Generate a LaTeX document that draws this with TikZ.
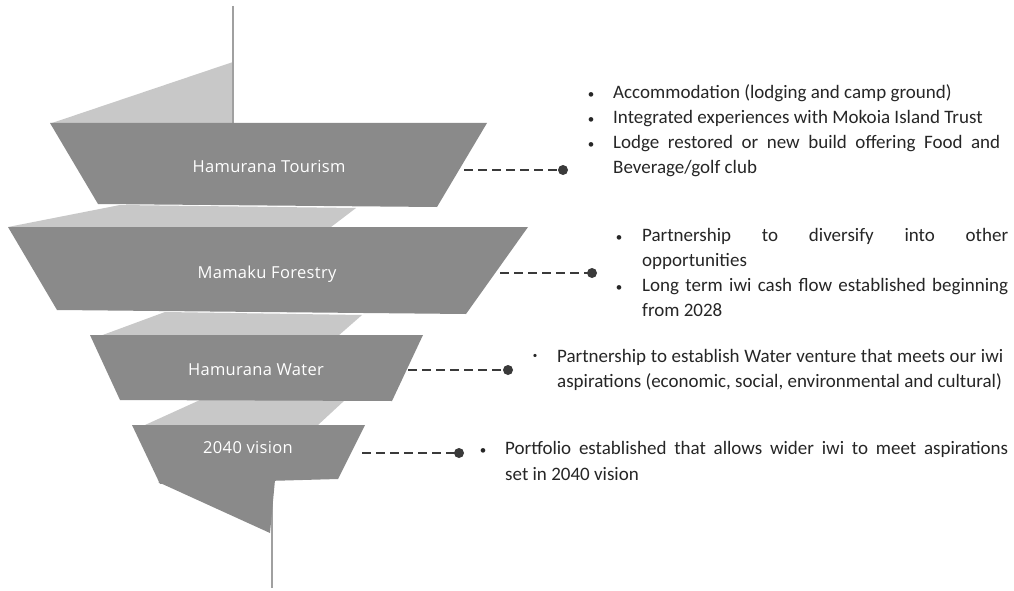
\documentclass[tikz,border=0pt]{standalone}
\usepackage{fontspec}
\setmainfont{Carlito}
\newfontfamily\labelfont[LetterSpace=2]{Open Sans}
\definecolor{band}{HTML}{8A8A8A}
\definecolor{ribbon}{HTML}{C8C8C8}
\definecolor{spike}{HTML}{A0A0A0}
\definecolor{ink}{HTML}{262626}
\definecolor{conn}{HTML}{3A3A3A}
\tikzset{
  bandlabel/.style={anchor=base, text=white, font=\labelfont\fontsize{16.5}{19}\selectfont, inner sep=0pt},
  txt/.style={anchor=base west, text=ink, font=\fontsize{19}{23}\selectfont, inner sep=0pt},
  bul/.style={anchor=base, text=ink, font=\fontsize{13}{16}\selectfont, inner sep=0pt},
  connline/.style={draw=conn, line width=2pt, dash pattern=on 9pt off 5pt},
  dotmark/.style={fill=conn}
}
\begin{document}
\begin{tikzpicture}[x=1pt,y=-1pt]
\useasboundingbox[fill=white] (0,0) rectangle (1014,591);
% upper spike
\fill[ribbon] (233,62) -- (52,123) -- (233,123) -- cycle;
\draw[spike, line width=2.2pt] (233,6) -- (233,123);
% ribbons between bands
\fill[ribbon] (8,227) -- (120,205) -- (356,208) -- (331,227) -- cycle;
\fill[ribbon] (100,336) -- (165,312) -- (362,315) -- (338,336) -- cycle;
\fill[ribbon] (145,425) -- (200,400) -- (345,400) -- (318,425) -- cycle;
% lower spike
\draw[spike, line width=2.2pt] (272,484) -- (272,588);
\fill[band] (158,482) -- (270,533) -- (275,480) -- cycle;
% bands
\fill[band] (50,123) -- (487,123) -- (437,207) -- (98,204) -- cycle;
\fill[band] (8,227) -- (528,227) -- (466,314) -- (57,310) -- cycle;
\fill[band] (90,335) -- (423,335) -- (392,401) -- (120,400) -- cycle;
\fill[band] (132,425) -- (365,425) -- (338,479) -- (160,484) -- cycle;
% band labels
\node[bandlabel] (l1) at (269,172) {Hamurana Tourism};
\node[bandlabel] (l2) at (267,278) {Mamaku Forestry};
\node[bandlabel] (l3) at (256,375) {Hamurana Water};
\node[bandlabel] (l4) at (248,453) {2040 vision};
% connectors
\coordinate (c1) at (464,170); \coordinate (d1) at (563,170);
\coordinate (c2) at (500,273); \coordinate (d2) at (592,273);
\coordinate (c3) at (408,370); \coordinate (d3) at (508,370);
\coordinate (c4) at (362,453); \coordinate (d4) at (459,453);
\foreach \i in {1,2,3,4}{
  \draw[connline] (c\i) -- (d\i);
  \fill[dotmark] (d\i) circle (5pt);
}
% block 1
\node[bul] (b1a) at (591,99) {\textbullet};
\node[txt] (t1a) at (613,99) {Accommodation (lodging and camp ground)};
\node[bul] (b1b) at (591,124) {\textbullet};
\node[txt] (t1b) at (613,124) {Integrated experiences with Mokoia Island Trust};
\node[bul] (b1c) at (591,148) {\textbullet};
\node[txt] (t1c) at (613,148) {\makebox[387pt][s]{Lodge restored or new build offering Food and}};
\node[txt] (t1d) at (613,173) {Beverage/golf club};
% block 2
\node[bul] (b2a) at (619,241) {\textbullet};
\node[txt] (t2a) at (642,241) {\makebox[366pt][s]{Partnership to diversify into other}};
\node[txt] (t2b) at (642,266) {opportunities};
\node[bul] (b2c) at (619,291) {\textbullet};
\node[txt] (t2c) at (642,291) {\makebox[366pt][s]{Long term iwi cash flow established beginning}};
\node[txt] (t2d) at (642,316) {from 2028};
% block 3
\node[bul, font=\fontsize{9}{11}\selectfont] (b3a) at (535,358) {\textbullet};
\node[txt] (t3a) at (557,362) {\makebox[446pt][s]{Partnership to establish Water venture that meets our iwi}};
\node[txt] (t3b) at (557,387) {aspirations (economic, social, environmental and cultural)};
% block 4
\node[bul] (b4a) at (483,454) {\textbullet};
\node[txt] (t4a) at (505,454) {\makebox[503pt][s]{Portfolio established that allows wider iwi to meet aspirations}};
\node[txt] (t4b) at (505,480) {set in 2040 vision};
\end{tikzpicture}
\end{document}
